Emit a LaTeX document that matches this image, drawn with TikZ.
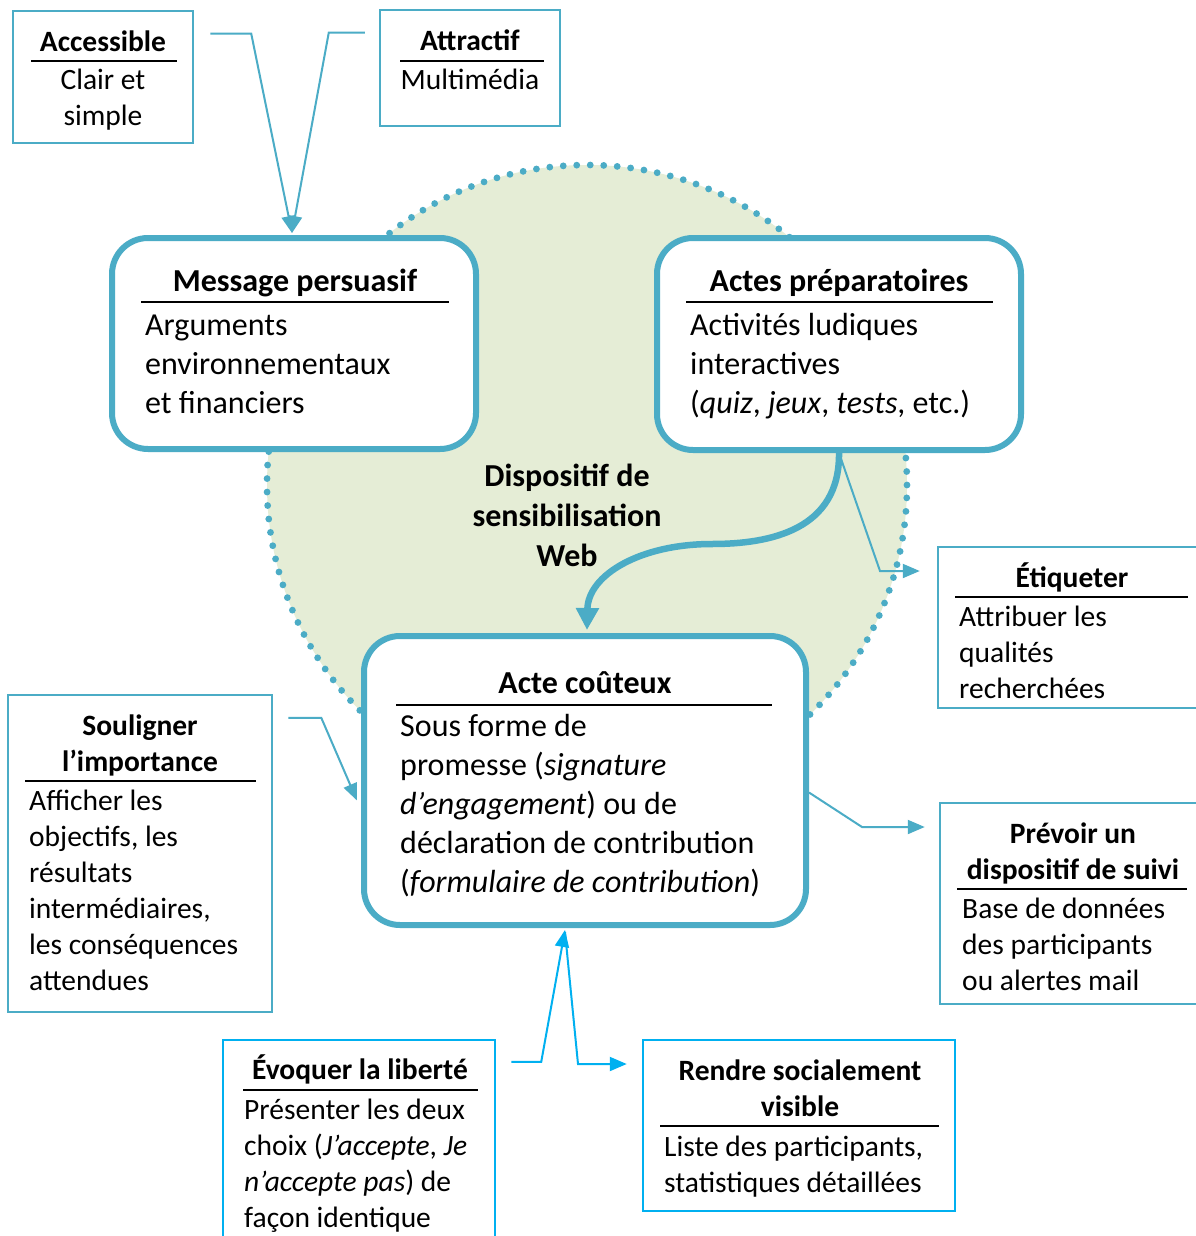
\documentclass[tikz,border=0pt]{standalone}
\usepackage{fontspec}
\setmainfont{Carlito}
\usetikzlibrary{arrows.meta,calc}
\definecolor{aqua}{HTML}{4BACC6}
\definecolor{sky}{HTML}{00B0F0}
\definecolor{sage}{HTML}{E5EDD6}
\newcommand\bigfont{\fontsize{32}{39}\selectfont}
\newcommand\smallfont{\fontsize{29.5}{36}\selectfont}
\newcommand\lft[2]{\parbox[t]{#1}{\raggedright #2}}
\newcommand\ctr[2]{\parbox[t]{#1}{\centering #2}}
\begin{document}
\begin{tikzpicture}[x=1pt,y=-1pt,
  bigbox/.style={draw=aqua, line width=6pt, rounded corners=36pt, fill=white, inner sep=0pt},
  note/.style={draw=aqua, line width=2.5pt, fill=white, inner sep=0pt},
  notesky/.style={note, draw=sky},
  txt/.style={inner sep=0pt, anchor=base west},
  ttl/.style={inner sep=0pt, anchor=base},
  rulel/.style={black, line width=1.8pt},
  link/.style={aqua, line width=2pt, -{Triangle[length=17pt,width=14pt]}},
  linksky/.style={link, draw=sky, -{Triangle[length=17pt,width=14pt,fill=sky]}},
  bendarrow/.style={aqua, line width=6.5pt, -{Triangle[length=22pt,width=22pt]}},
  web/.style={circle, minimum size=640pt, inner sep=0pt, fill=sage, draw=aqua, line width=6.8pt, dash pattern=on 0pt off 13.5pt, line cap=round}
]
\useasboundingbox (0,0) rectangle (1195,1236);
\fill[white] (0,0) rectangle (1195,1236);

% background disc
\node[web] (disc) at (587,485) {};

% boxes
\node[note, minimum width=180pt, minimum height=132pt] (acc) at (103,77) {};
\node[note, minimum width=180pt, minimum height=116pt] (attr) at (470,68) {};
\node[bigbox, minimum width=364pt, minimum height=211pt] (msg) at (294,343.5) {};
\node[bigbox, minimum width=364pt, minimum height=212pt] (actes) at (839,344) {};
\node[note, minimum width=262pt, minimum height=161pt] (etiq) at (1069,627.5) {};
\node[bigbox, minimum width=442pt, minimum height=289pt] (acte) at (585,780.5) {};
\node[note, minimum width=264pt, minimum height=317pt] (soul) at (140,853.5) {};
\node[note, minimum width=260pt, minimum height=201pt] (prev) at (1070,903.5) {};
\node[notesky, minimum width=272pt, minimum height=210pt] (evoq) at (359,1145) {};
\node[notesky, minimum width=312pt, minimum height=171pt] (rendre) at (799,1125.5) {};

% Accessible
\node[ttl] (accT) at (103,52) {\smallfont\bfseries Accessible};
\draw[rulel] (31,61) -- (177,61);
\node[ttl] (accB) at (103,90) {\smallfont\ctr{170pt}{Clair et\\simple}};
% Attractif
\node[ttl] (attrT) at (470,51) {\smallfont\bfseries Attractif};
\draw[rulel] (400,61) -- (544,61);
\node[ttl] (attrB) at (470,90) {\smallfont Multimédia};

% Message persuasif
\node[ttl] (msgT) at (295,291) {\bigfont\bfseries Message persuasif};
\draw[rulel] (141,302) -- (449,302);
\node[txt] (msgB) at (145,335) {\bigfont\lft{320pt}{Arguments\\environnementaux\\et financiers}};

% Actes preparatoires
\node[ttl] (actesT) at (839,291) {\bigfont\bfseries Actes préparatoires};
\draw[rulel] (686,302) -- (993,302);
\node[txt] (actesB) at (690,335) {\bigfont\lft{330pt}{Activités ludiques\\interactives\\(\textit{quiz}, \textit{jeux}, \textit{tests}, etc.)}};

% centre label
\node[ttl] (webT) at (567,486) {\fontsize{32}{40}\selectfont\bfseries\ctr{260pt}{Dispositif de\\sensibilisation\\Web}};

% Etiqueter
\node[ttl] (etiqT) at (1072,587) {\smallfont\bfseries Étiqueter};
\draw[rulel] (955,597) -- (1188,597);
\node[txt] (etiqB) at (959,626) {\smallfont\lft{230pt}{Attribuer les\\qualités\\recherchées}};

% Acte couteux
\node[ttl] (acteT) at (585,693) {\bigfont\bfseries Acte coûteux};
\draw[rulel] (396,705) -- (772,705);
\node[txt] (acteB) at (400,736) {\bigfont\lft{400pt}{Sous forme de\\promesse (\textit{signature}\\\textit{d’engagement}) ou de\\déclaration de contribution\\(\textit{formulaire de contribution})}};

% Souligner
\node[ttl] (soulT) at (140,735) {\smallfont\bfseries\ctr{250pt}{Souligner\\l’importance}};
\draw[rulel] (25,781) -- (256,781);
\node[txt] (soulB) at (29,810) {\smallfont\lft{240pt}{Afficher les\\objectifs, les\\résultats\\intermédiaires,\\les conséquences\\attendues}};

% Prevoir
\node[ttl] (prevT) at (1073,843) {\smallfont\bfseries\ctr{250pt}{Prévoir un\\dispositif de suivi}};
\draw[rulel] (957,889) -- (1187,889);
\node[txt] (prevB) at (962,918) {\smallfont\lft{230pt}{Base de données\\des participants\\ou alertes mail}};

% Evoquer
\node[ttl] (evoqT) at (360,1079) {\smallfont\bfseries Évoquer la liberté};
\draw[rulel] (243,1090) -- (478,1090);
\node[txt] (evoqB) at (244,1119) {\smallfont\lft{250pt}{Présenter les deux\\choix (\textit{J’accepte}, \textit{Je}\\\textit{n’accepte pas}) de\\façon identique}};

% Rendre
\node[ttl] (rendreT) at (800,1080) {\smallfont\bfseries\ctr{300pt}{Rendre socialement\\visible}};
\draw[rulel] (660,1126) -- (939,1126);
\node[txt] (rendreB) at (664,1156) {\smallfont\lft{290pt}{Liste des participants,\\statistiques détaillées}};

% connectors
\draw[link] ($(acc.north east)+(16,24)$) -- ++(41,0) -- ($(msg.north)+(-2,-2)$);
\draw[link] ($(attr.north west)+(-14,24)$) -- ++(-36,0) -- ($(msg.north)+(-2,-2)$);
\draw[bendarrow] (actes.south) .. controls (840,530) and (770,544) .. (712,544) .. controls (640,544) and (588,575) .. ($(acte.north)+(2,-3)$);
\draw[link] (actes.south) -- (880,571) -- ($(etiq.west |- 0,571)+(-17,0)$);
\draw[link] ($(soul.north east)+(15,24)$) -- ++(33,0) -- ($(acte.west)+(-4,20)$);
\draw[link] ($(acte.east)+(0,12)$) -- (862,827) -- ($(prev.west |- 0,827)+(-14,0)$);
\draw[linksky] ($(evoq.north east)+(15,23)$) -- ++(30,0) -- ($(acte.south)+(-20,2)$);
\draw[linksky] ($(acte.south)+(-20,4)$) -- (578,1064) -- ($(rendre.west |- 0,1064)+(-15,0)$);
\end{tikzpicture}
\end{document}
